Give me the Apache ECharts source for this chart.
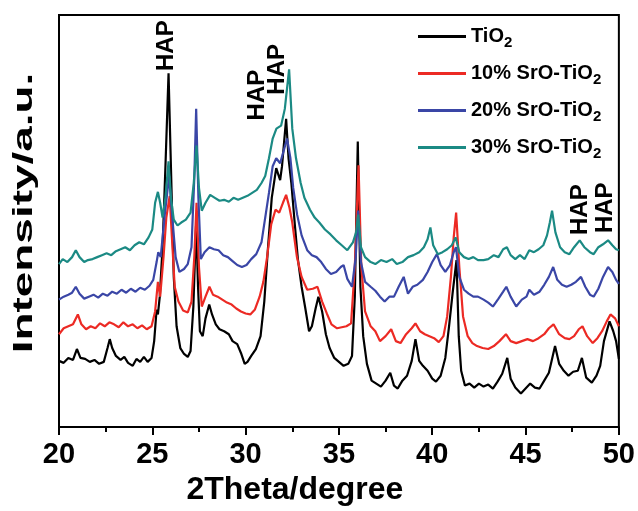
<!DOCTYPE html>
<html>
<head>
<meta charset="utf-8">
<script src="https://cdn.jsdelivr.net/npm/echarts@6/dist/echarts.min.js"></script>
<style>html,body{margin:0;padding:0;background:#fff}#c{width:638px;height:511px}</style>
</head>
<body>
<div id="c"></div>
<script>
// [2Theta (deg), intensity (a.u.)]
const seriesNames = ['TiO2', '10% SrO-TiO2', '20% SrO-TiO2', '30% SrO-TiO2'];
const xTicks = [20, 25, 30, 35, 40, 45, 50];

const tio2 = [[20.00,67],[20.25,65],[20.50,70],[20.75,68],[20.96,79],[21.15,70],[21.40,69],[21.65,66],[21.90,68],[22.15,64],[22.40,66],[22.60,80],[22.72,89],[22.85,80],[23.05,72],[23.30,68],[23.50,71],[23.70,65],[23.95,62],[24.15,69],[24.35,66],[24.55,71],[24.75,66],[24.96,70],[25.10,87],[25.23,119],[25.30,114],[25.40,132],[25.55,182],[25.70,262],[25.87,358],[26.00,262],[26.15,152],[26.30,102],[26.50,80],[26.70,74],[26.90,71],[27.05,77],[27.20,122],[27.35,207],[27.45,142],[27.55,97],[27.70,92],[27.85,110],[28.05,124],[28.20,114],[28.40,104],[28.60,99],[28.85,97],[29.10,94],[29.30,87],[29.55,84],[29.75,75],[29.95,64],[30.10,66],[30.30,72],[30.55,79],[30.80,92],[31.00,127],[31.20,182],[31.40,232],[31.64,262],[31.85,250],[31.95,264],[32.17,312],[32.30,272],[32.45,247],[32.65,202],[32.80,170],[33.00,142],[33.20,120],[33.40,97],[33.55,102],[33.75,120],[33.90,132],[34.10,117],[34.30,94],[34.50,80],[34.75,70],[35.00,66],[35.25,62],[35.50,64],[35.70,72],[35.85,132],[36.01,289],[36.15,142],[36.30,92],[36.50,64],[36.75,47],[37.00,44],[37.25,41],[37.50,47],[37.75,55],[37.95,42],[38.15,39],[38.40,47],[38.65,52],[38.90,67],[39.10,89],[39.30,67],[39.50,62],[39.75,57],[40.00,49],[40.20,46],[40.45,52],[40.70,70],[40.90,102],[41.10,137],[41.30,169],[41.42,92],[41.55,57],[41.75,42],[42.00,44],[42.25,40],[42.50,44],[42.75,41],[43.00,43],[43.25,39],[43.50,46],[43.75,54],[44.02,70],[44.20,49],[44.45,40],[44.75,34],[45.00,39],[45.25,44],[45.50,40],[45.75,39],[46.00,47],[46.25,55],[46.58,82],[46.80,64],[47.05,57],[47.30,52],[47.55,56],[47.80,57],[48.02,70],[48.25,50],[48.55,45],[48.80,52],[49.00,62],[49.20,87],[49.50,107],[49.70,97],[49.85,87],[50.00,69]];

const sro10 = [[20.00,94],[20.25,100],[20.50,102],[20.75,104],[21.01,114],[21.20,104],[21.45,99],[21.70,102],[21.95,100],[22.20,105],[22.45,102],[22.70,106],[22.95,104],[23.20,101],[23.45,106],[23.70,102],[23.95,104],[24.20,100],[24.45,103],[24.70,99],[24.96,102],[25.15,117],[25.30,147],[25.42,132],[25.60,172],[25.75,212],[25.93,234],[26.05,192],[26.20,142],[26.40,127],[26.65,118],[26.90,116],[27.10,127],[27.25,172],[27.37,227],[27.50,162],[27.65,122],[27.85,132],[28.06,142],[28.25,134],[28.50,132],[28.75,129],[29.00,126],[29.25,124],[29.50,120],[29.75,117],[30.00,115],[30.25,114],[30.50,119],[30.75,132],[30.95,147],[31.15,172],[31.37,205],[31.60,220],[31.80,217],[32.00,227],[32.17,235],[32.35,222],[32.50,207],[32.75,172],[33.00,152],[33.30,139],[33.60,140],[33.85,142],[34.10,127],[34.35,115],[34.60,104],[34.90,100],[35.15,101],[35.40,102],[35.65,105],[35.85,162],[36.05,265],[36.20,162],[36.40,117],[36.70,102],[36.95,97],[37.20,87],[37.50,92],[37.80,99],[38.05,87],[38.30,85],[38.60,94],[38.90,100],[39.10,105],[39.35,97],[39.60,94],[39.85,92],[40.10,90],[40.35,86],[40.60,92],[40.80,112],[41.00,152],[41.15,192],[41.28,217],[41.45,162],[41.65,112],[41.90,92],[42.15,85],[42.40,82],[42.70,80],[43.00,79],[43.30,82],[43.60,87],[43.95,94],[44.20,87],[44.50,85],[44.80,87],[45.10,89],[45.40,87],[45.70,90],[46.00,94],[46.25,100],[46.50,104],[46.80,94],[47.10,90],[47.35,89],[47.60,92],[47.85,99],[48.05,102],[48.30,92],[48.60,85],[48.85,90],[49.10,97],[49.35,107],[49.55,114],[49.80,110],[50.00,102]];

const sro20 = [[20.00,129],[20.25,132],[20.50,134],[20.70,136],[20.90,142],[21.10,135],[21.35,130],[21.60,132],[21.85,134],[22.10,131],[22.35,135],[22.60,133],[22.85,137],[23.10,135],[23.35,139],[23.60,136],[23.85,140],[24.10,137],[24.35,141],[24.60,139],[24.85,143],[25.05,149],[25.23,167],[25.32,177],[25.45,172],[25.65,212],[25.90,254],[26.05,217],[26.25,172],[26.45,157],[26.70,160],[26.90,165],[27.10,182],[27.25,252],[27.35,322],[27.47,232],[27.60,170],[27.80,177],[28.06,182],[28.30,180],[28.55,179],[28.80,174],[29.05,172],[29.30,168],[29.55,164],[29.80,162],[30.05,164],[30.30,170],[30.57,175],[30.85,187],[31.05,212],[31.25,237],[31.45,264],[31.64,272],[31.85,267],[32.00,277],[32.22,292],[32.40,272],[32.55,242],[32.76,215],[33.00,194],[33.30,179],[33.55,174],[33.80,172],[34.05,167],[34.30,160],[34.57,155],[34.85,157],[35.10,162],[35.25,164],[35.45,150],[35.70,142],[35.90,172],[36.03,219],[36.18,167],[36.40,147],[36.70,142],[36.95,138],[37.20,132],[37.45,127],[37.70,132],[37.95,132],[38.20,142],[38.47,152],[38.70,135],[38.95,142],[39.20,144],[39.50,149],[39.75,157],[40.00,167],[40.25,175],[40.45,164],[40.70,157],[40.95,164],[41.15,177],[41.27,182],[41.45,152],[41.70,139],[41.95,135],[42.20,132],[42.45,132],[42.75,129],[43.00,126],[43.25,122],[43.55,130],[43.80,137],[43.97,142],[44.20,132],[44.50,122],[44.80,129],[45.05,132],[45.20,139],[45.45,134],[45.75,137],[46.00,144],[46.25,152],[46.48,162],[46.70,149],[46.95,144],[47.20,142],[47.45,144],[47.70,147],[47.97,152],[48.20,142],[48.45,134],[48.65,132],[48.90,140],[49.15,152],[49.42,162],[49.65,157],[49.85,149],[50.00,145]];

const sro30 = [[20.00,165],[20.20,170],[20.45,167],[20.70,172],[20.90,179],[21.10,172],[21.35,167],[21.55,169],[21.80,170],[22.05,172],[22.30,174],[22.55,176],[22.80,174],[23.05,178],[23.30,180],[23.55,182],[23.80,179],[24.05,184],[24.30,187],[24.55,185],[24.80,192],[25.00,200],[25.15,227],[25.30,238],[25.42,227],[25.55,212],[25.70,232],[25.87,269],[26.00,232],[26.15,210],[26.35,204],[26.55,207],[26.80,210],[27.05,217],[27.22,247],[27.37,285],[27.50,242],[27.65,219],[27.85,227],[28.10,235],[28.35,232],[28.60,229],[28.85,230],[29.10,228],[29.35,232],[29.60,230],[29.85,232],[30.10,234],[30.35,237],[30.60,240],[30.85,247],[31.05,254],[31.25,272],[31.45,292],[31.65,302],[31.90,305],[32.10,322],[32.33,362],[32.50,302],[32.70,272],[32.95,247],[33.15,232],[33.45,220],[33.70,212],[33.95,207],[34.25,200],[34.55,195],[34.85,189],[35.15,184],[35.45,179],[35.75,187],[35.92,197],[36.03,215],[36.18,182],[36.40,172],[36.70,167],[36.95,165],[37.25,169],[37.55,167],[37.85,170],[38.10,165],[38.40,167],[38.70,172],[39.00,174],[39.30,177],[39.55,182],[39.75,190],[39.90,202],[40.05,184],[40.30,175],[40.55,177],[40.80,180],[41.05,184],[41.25,192],[41.45,177],[41.70,172],[41.95,170],[42.20,172],[42.45,169],[42.75,169],[43.00,170],[43.30,174],[43.55,172],[43.80,180],[44.00,182],[44.20,174],[44.45,170],[44.70,174],[44.95,170],[45.20,179],[45.45,177],[45.70,180],[45.95,184],[46.15,194],[46.30,207],[46.42,219],[46.60,197],[46.85,182],[47.10,177],[47.35,175],[47.60,182],[47.90,189],[48.15,182],[48.45,177],[48.65,175],[48.90,182],[49.15,185],[49.42,189],[49.65,184],[49.85,180],[50.00,179]];

// HAP annotations: [2Theta, intensity position of label centre]
const hapLabels = [[25.77,386],[30.65,336],[31.72,362],[47.92,220],[49.28,222]];

const colors = ['#000000', '#ec2a24', '#3a46a6', '#1b8a84'];
const allData = [tio2, sro10, sro20, sro30];

const FONT = 'Liberation Sans, Arial, Helvetica, sans-serif';
const chart = echarts.init(document.getElementById('c'), null, {renderer: 'canvas'});

const option = {
  animation: false,
  backgroundColor: '#fff',
  grid: {left: 59, right: 17, top: 15, bottom: 79, show: true, borderColor: '#000', borderWidth: 2, backgroundColor: 'transparent'},
  xAxis: {
    type: 'value', min: 20, max: 50, interval: 5,
    name: '2Theta/degree', nameLocation: 'middle', nameGap: 40,
    nameTextStyle: {fontFamily: FONT, fontWeight: 'bold', fontSize: 32, color: '#000', padding: [0, 88, 0, 0]},
    axisLine: {show: true, lineStyle: {color: '#000', width: 2}},
    axisTick: {show: true, inside: false, length: 8, lineStyle: {color: '#000', width: 2}},
    minorTick: {show: true, splitNumber: 2, length: 5, lineStyle: {color: '#000', width: 2}},
    axisLabel: {show: true, margin: 13, fontFamily: 'Liberation Sans Narrow, ' + FONT, fontWeight: 'bold', fontSize: 29, color: '#000',
      customValues: xTicks},
    splitLine: {show: false}
  },
  yAxis: {
    type: 'value', min: 0, max: 417,
    axisLine: {show: true, lineStyle: {color: '#000', width: 2}},
    axisTick: {show: false}, axisLabel: {show: false}, splitLine: {show: false}
  },
  legend: {
    orient: 'vertical', left: 413, top: 18, itemWidth: 48, itemHeight: 3, itemGap: 10,
    icon: 'rect',
    data: seriesNames,
    formatter: function (name) { return '{t|' + name.slice(0, -1) + '}{s|2}'; },
    textStyle: {
      color: '#000',
      rich: {
        t: {fontFamily: FONT, fontWeight: 'bold', fontSize: 20, lineHeight: 27, color: '#000'},
        s: {fontFamily: FONT, fontWeight: 'bold', fontSize: 15, lineHeight: 15, padding: [12, 0, 0, 0], color: '#000'}
      }
    }
  },
  series: seriesNames.map(function (n, i) {
    return {
      name: n, type: 'line', data: allData[i], showSymbol: false, symbol: 'none',
      lineStyle: {color: colors[i], width: 2.2}, itemStyle: {color: colors[i]}, z: 2 + i
    };
  })
};
chart.setOption(option);

const g = hapLabels.map(function (p) {
  const px = chart.convertToPixel({gridIndex: 0}, p);
  return {
    type: 'text', x: px[0], y: px[1], rotation: Math.PI / 2,
    style: {text: 'HAP', fontFamily: FONT, fontWeight: 'bold', fontSize: 24, fill: '#000', align: 'center', verticalAlign: 'middle'}
  };
});
g.push({
  type: 'text', x: 24.5, y: 213, rotation: Math.PI / 2, scaleX: 1.64,
  style: {text: 'Intensity/a.u.', fontFamily: FONT, fontWeight: 'bold', fontSize: 28, fill: '#000', align: 'center', verticalAlign: 'middle'}
});
chart.setOption({graphic: g});
</script>
</body>
</html>
